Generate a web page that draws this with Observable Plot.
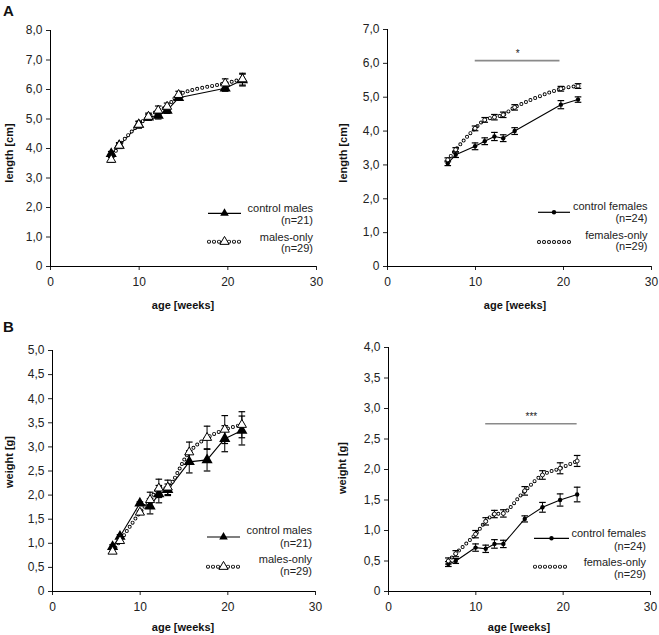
<!DOCTYPE html>
<html><head><meta charset="utf-8">
<script src="https://cdn.jsdelivr.net/npm/d3@7"></script>
<script src="https://cdn.jsdelivr.net/npm/@observablehq/plot@0.6"></script>
<style>
body{margin:0;background:#fff;font-family:"Liberation Sans",Arial,sans-serif;}
#wrap{position:relative;width:659px;height:635px;overflow:hidden;}
.panel{position:absolute;}
#overlay{position:absolute;left:0;top:0;pointer-events:none;}
</style></head><body><div id="wrap"></div>
<script>
// ---- data ----
const ageLength = [6.85, 7.75, 9.95, 11.05, 12.15, 13.15, 14.45, 19.7, 21.65];
const ageWeight = [6.85, 7.7, 9.97, 11.13, 12.13, 13.15, 15.6, 17.63, 19.65, 21.6];

const lenCtrlMales      = [3.82, 4.10, 4.81, 5.06, 5.12, 5.29, 5.72, 6.04, 6.32];
const lenCtrlMalesErr   = [0.08, 0.08, 0.10, 0.10, 0.12, 0.10, 0.08, 0.10, 0.20];
const lenMalesOnly      = [3.62, 4.10, 4.81, 5.08, 5.29, 5.42, 5.82, 6.21, 6.35];
const lenMalesOnlyErr   = [0.08, 0.10, 0.12, 0.12, 0.15, 0.12, 0.12, 0.15, 0.20];

const lenCtrlFemales    = [3.05, 3.30, 3.55, 3.70, 3.84, 3.79, 4.00, 4.78, 4.93];
const lenCtrlFemalesErr = [0.07, 0.08, 0.10, 0.10, 0.12, 0.10, 0.10, 0.12, 0.08];
const lenFemalesOnly    = [3.15, 3.45, 4.08, 4.33, 4.41, 4.48, 4.70, 5.25, 5.33];
const lenFemalesOnlyErr = [0.06, 0.06, 0.07, 0.07, 0.08, 0.08, 0.08, 0.07, 0.07];

const wCtrlMales        = [0.93, 1.14, 1.83, 1.77, 2.02, 2.11, 2.69, 2.73, 3.17, 3.34];
const wCtrlMalesErr     = [0.04, 0.04, 0.03, 0.16, 0.18, 0.12, 0.23, 0.23, 0.27, 0.30];
const wMalesOnly        = [0.83, 1.05, 1.64, 1.90, 2.14, 2.16, 2.89, 3.19, 3.36, 3.46];
const wMalesOnlyErr     = [0.04, 0.04, 0.03, 0.16, 0.19, 0.15, 0.21, 0.24, 0.29, 0.27];

const wCtrlFemales      = [0.45, 0.50, 0.72, 0.70, 0.78, 0.78, 1.19, 1.38, 1.50, 1.59];
const wCtrlFemalesErr   = [0.04, 0.04, 0.06, 0.06, 0.07, 0.06, 0.05, 0.08, 0.10, 0.12];
const wFemalesOnly      = [0.50, 0.62, 0.94, 1.15, 1.27, 1.28, 1.65, 1.91, 2.02, 2.14];
const wFemalesOnlyErr   = [0.05, 0.05, 0.06, 0.06, 0.06, 0.06, 0.07, 0.07, 0.09, 0.09];

const xTicks = [0, 10, 20, 30];
const sigLength = [{x1: 9.97, x2: 19.6, y: 6.08, label: "*"}];
const sigWeight = [{x1: 11.13, x2: 21.6, y: 2.75, label: "***"}];

// ---- helpers ----
const fmt = d => d === 0 ? "0" : d.toFixed(1).replace(".", ",");
const cap = {draw(ctx, size) { const w = Math.sqrt(size / Math.PI); ctx.moveTo(-w, 0); ctx.lineTo(w, 0); }};
const rows = (ages, ys, es) => ages.map((a, i) => ({age: a, y: ys[i], e: es[i]}));

function errMarks(data) {
  return [
    Plot.ruleX(data, {x: "age", y1: d => d.y - d.e, y2: d => d.y + d.e, stroke: "black", strokeWidth: 1}),
    Plot.dot(data, {x: "age", y: d => d.y - d.e, symbol: cap, r: 3.3, stroke: "black", strokeWidth: 1.2}),
    Plot.dot(data, {x: "age", y: d => d.y + d.e, symbol: cap, r: 3.3, stroke: "black", strokeWidth: 1.2})
  ];
}

function panel(o) {
  const ctrl = rows(o.ages, o.ctrl, o.ctrlErr);
  const exp = rows(o.ages, o.exp, o.expErr);
  const yTicks = d3.range(0, o.yMax + 1e-9, o.yStep);
  const tri = o.sym === "triangle";
  const marks = [
    Plot.ruleY([0], {stroke: "black", strokeWidth: 1}),
    Plot.ruleX([0], {stroke: "black", strokeWidth: 1})
  ];
  if (o.sig) {
    marks.push(Plot.ruleY(o.sig, {x1: "x1", x2: "x2", y: "y", stroke: "#8a8a8a", strokeWidth: 1.6}));
    marks.push(Plot.text(o.sig, {x: d => (d.x1 + d.x2) / 2, y: "y", text: "label", dy: -7, fontSize: 10, fill: "#222"}));
  }
  marks.push(
    Plot.line(ctrl, {x: "age", y: "y", stroke: "black", strokeWidth: 1.1}),
    Plot.line(exp, {x: "age", y: "y", curve: "catmull-rom", stroke: "black", strokeWidth: 4, strokeDasharray: "0 5", strokeLinecap: "round"}),
    Plot.line(exp, {x: "age", y: "y", curve: "catmull-rom", stroke: "white", strokeWidth: 2.2, strokeDasharray: "0 5", strokeLinecap: "round"}),
    ...errMarks(ctrl),
    tri ? Plot.dot(ctrl, {x: "age", y: "y", symbol: "triangle", r: 3.2, fill: "black", stroke: "black"})
        : Plot.dot(ctrl, {x: "age", y: "y", r: 2.2, fill: "black"}),
    ...errMarks(exp),
    tri ? Plot.dot(exp, {x: "age", y: "y", symbol: "triangle", r: 3.4, fill: "white", stroke: "black", strokeWidth: 1})
        : Plot.dot(exp, {x: "age", y: "y", r: 2, fill: "white", stroke: "black", strokeWidth: 0.9})
  );
  const chart = Plot.plot({
    width: o.width, height: o.height,
    marginLeft: o.ml, marginRight: o.mr, marginTop: o.mt, marginBottom: o.mb,
    style: {fontSize: "12px", fontFamily: "'Liberation Sans', Arial, sans-serif", color: "#222", background: "transparent", overflow: "visible"},
    x: {domain: [0, 30], ticks: xTicks, tickSize: 4, tickPadding: 6.5, label: null},
    y: {domain: [0, o.yMax], ticks: yTicks, tickFormat: fmt, tickSize: 4, tickPadding: 4, label: null},
    marks
  });
  chart.classList.add("panel");
  chart.style.left = o.left + "px";
  chart.style.top = o.top + "px";
  document.getElementById("wrap").appendChild(chart);
}

panel({left: 0, top: 0, width: 330, height: 320, ml: 50, mr: 14, mt: 30, mb: 54, yMax: 8, yStep: 1,
  ages: ageLength, ctrl: lenCtrlMales, ctrlErr: lenCtrlMalesErr, exp: lenMalesOnly, expErr: lenMalesOnlyErr, sym: "triangle"});
panel({left: 330, top: 0, width: 329, height: 320, ml: 57, mr: 8, mt: 29, mb: 54, yMax: 7, yStep: 1,
  ages: ageLength, ctrl: lenCtrlFemales, ctrlErr: lenCtrlFemalesErr, exp: lenFemalesOnly, expErr: lenFemalesOnlyErr, sym: "circle", sig: sigLength});
panel({left: 0, top: 315, width: 330, height: 320, ml: 52, mr: 15, mt: 35, mb: 44, yMax: 5, yStep: 0.5,
  ages: ageWeight, ctrl: wCtrlMales, ctrlErr: wCtrlMalesErr, exp: wMalesOnly, expErr: wMalesOnlyErr, sym: "triangle"});
panel({left: 330, top: 315, width: 329, height: 320, ml: 58, mr: 9, mt: 32, mb: 44, yMax: 4, yStep: 0.5,
  ages: ageWeight, ctrl: wCtrlFemales, ctrlErr: wCtrlFemalesErr, exp: wFemalesOnly, expErr: wFemalesOnlyErr, sym: "circle", sig: sigWeight});

// ---- labels & legends overlay ----
const ns = "http://www.w3.org/2000/svg";
const ov = document.createElementNS(ns, "svg");
ov.setAttribute("id", "overlay"); ov.setAttribute("width", 659); ov.setAttribute("height", 635);
ov.style.fontFamily = "'Liberation Sans', Arial, sans-serif";
document.getElementById("wrap").appendChild(ov);
function el(tag, attrs, text) {
  const e = document.createElementNS(ns, tag);
  for (const k in attrs) e.setAttribute(k, attrs[k]);
  if (text != null) e.textContent = text;
  ov.appendChild(e); return e;
}
const panelLetters = [["A", 3, 16], ["B", 3, 332]];
for (const [t, x, y] of panelLetters) el("text", {x, y, "font-size": 15, "font-weight": "bold", fill: "#111"}, t);

const xLabel = "age [weeks]";
const yLabels = ["length [cm]", "length [cm]", "weight [g]", "weight [g]"];
const xLabelPos = [[183, 309], [515, 309], [183, 630.5], [519, 630.5]];
const yLabelPos = [[12.5, 153], [347, 153], [12.5, 462], [346, 468]];
xLabelPos.forEach(([x, y]) => el("text", {x, y, "font-size": 11, "font-weight": "bold", "text-anchor": "middle", fill: "#111"}, xLabel));
yLabelPos.forEach(([x, y], i) => el("text", {x: 0, y: 0, transform: `translate(${x},${y}) rotate(-90)`, "font-size": 11, "font-weight": "bold", "text-anchor": "middle", fill: "#111"}, yLabels[i]));

const legendNames = [["control males", "(n=21)", "males-only", "(n=29)"], ["control females", "(n=24)", "females-only", "(n=29)"],
                     ["control males", "(n=21)", "males-only", "(n=29)"], ["control females", "(n=24)", "females-only", "(n=29)"]];
// [textRight, y1 (first line center), sampleX1, sampleX2, lineY, dotsY, triangle?]
const legendPos = [[313, 207.7, 208, 241, 213.3, 241.7, true], [647.5, 205.7, 538, 570, 212.3, 242, false],
                   [312, 530, 207, 240, 537, 566.7, true], [646, 533.3, 534, 569, 538.3, 566.7, false]];
legendPos.forEach(([xr, y1, sx1, sx2, ly, dy, tri], i) => {
  const [a, b, c, d] = legendNames[i];
  const gap = [0, 12.5, 29, 40.5];
  [a, b, c, d].forEach((t, j) => el("text", {x: xr, y: y1 + gap[j] + 4, "font-size": 11, "text-anchor": "end", fill: "#222"}, t));
  el("line", {x1: sx1, x2: sx2, y1: ly, y2: ly, stroke: "black", "stroke-width": 1.2});
  el("line", {x1: sx1 + 1, x2: sx2, y1: dy, y2: dy, stroke: "black", "stroke-width": 4, "stroke-dasharray": "0 5", "stroke-linecap": "round"});
  el("line", {x1: sx1 + 1, x2: sx2, y1: dy, y2: dy, stroke: "white", "stroke-width": 2.2, "stroke-dasharray": "0 5", "stroke-linecap": "round"});
  const cx = (sx1 + sx2) / 2;
  if (tri) {
    el("path", {d: d3.symbol(d3.symbolTriangle, 3.2 * 3.2 * Math.PI)(), transform: `translate(${cx},${ly})`, fill: "black"});
    el("path", {d: d3.symbol(d3.symbolTriangle, 3.4 * 3.4 * Math.PI)(), transform: `translate(${cx},${dy})`, fill: "white", stroke: "black"});
  } else {
    el("circle", {cx, cy: ly, r: 2.2, fill: "black"});
  }
});
</script></body></html>
